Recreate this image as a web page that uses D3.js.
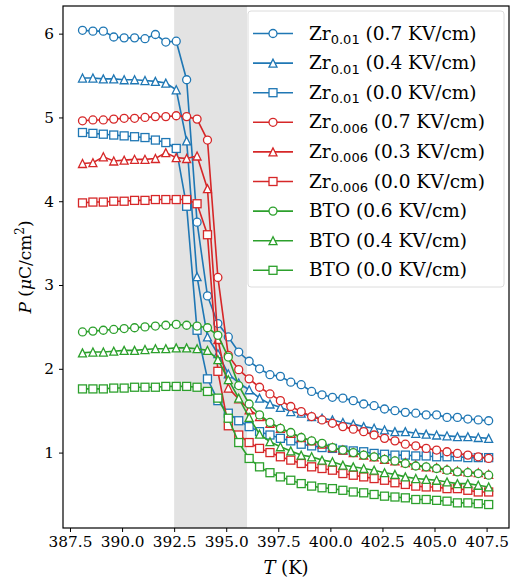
<!DOCTYPE html>
<html>
<head>
<meta charset="utf-8">
<script src="https://cdn.jsdelivr.net/npm/d3@7"></script>
<style>
  body { margin: 0; background: #fff; }
  svg text { font-family: "DejaVu Serif", serif; fill: #000; }
</style>
</head>
<body>
<svg id="drawing_region"></svg>
<script>
// temperatures (K), one per measured point
const temps = [388.1, 388.6, 389.1, 389.6, 390.1, 390.6, 391.1, 391.6, 392.1, 392.6,
               393.1, 393.6, 394.1, 394.6, 395.1, 395.6, 396.1, 396.6, 397.1, 397.6,
               398.1, 398.6, 399.1, 399.6, 400.1, 400.6, 401.1, 401.6, 402.1, 402.6,
               403.1, 403.6, 404.1, 404.6, 405.1, 405.6, 406.1, 406.6, 407.1, 407.6];

// polarization P (uC/cm^2)
const zr01_07 = [6.04, 6.03, 6.03, 5.96, 5.95, 5.95, 5.94, 5.99, 5.90, 5.91,
                 5.45, 3.75, 2.87, 2.54, 2.38, 2.20, 2.09, 2.00, 1.93, 1.91,
                 1.84, 1.81, 1.73, 1.69, 1.66, 1.65, 1.62, 1.58, 1.56, 1.52,
                 1.50, 1.48, 1.47, 1.45, 1.45, 1.42, 1.42, 1.40, 1.39, 1.38];
const zr01_04 = [5.47, 5.47, 5.46, 5.46, 5.45, 5.45, 5.44, 5.43, 5.41, 5.33,
                 4.72, 3.10, 2.38, 2.18, 1.94, 1.83, 1.75, 1.65, 1.58, 1.54,
                 1.49, 1.47, 1.43, 1.41, 1.39, 1.36, 1.34, 1.31, 1.29, 1.27,
                 1.25, 1.25, 1.23, 1.22, 1.21, 1.20, 1.19, 1.19, 1.18, 1.17];
const zr01_00 = [4.82, 4.81, 4.80, 4.79, 4.78, 4.77, 4.76, 4.73, 4.70, 4.63,
                 3.94, 2.46, 1.88, 1.62, 1.47, 1.38, 1.31, 1.25, 1.21, 1.17,
                 1.14, 1.10, 1.08, 1.06, 1.05, 1.03, 1.02, 1.01, 0.99, 0.98,
                 0.97, 0.97, 0.96, 0.96, 0.95, 0.95, 0.95, 0.94, 0.94, 0.94];
const zr006_07 = [4.96, 4.97, 4.97, 4.98, 4.99, 4.99, 5.00, 5.01, 5.01, 5.02,
                  5.01, 4.98, 4.73, 3.09, 2.16, 1.99, 1.88, 1.78, 1.70, 1.62,
                  1.55, 1.49, 1.43, 1.39, 1.35, 1.31, 1.28, 1.25, 1.21, 1.17,
                  1.14, 1.10, 1.08, 1.05, 1.03, 1.01, 0.99, 0.97, 0.95, 0.93];
const zr006_03 = [4.45, 4.46, 4.53, 4.48, 4.49, 4.50, 4.50, 4.51, 4.58, 4.52,
                  4.51, 4.54, 4.15, 2.35, 1.77, 1.64, 1.51, 1.43, 1.35, 1.29,
                  1.23, 1.18, 1.14, 1.10, 1.06, 1.03, 1.00, 0.97, 0.95, 0.92,
                  0.90, 0.88, 0.85, 0.83, 0.82, 0.80, 0.78, 0.77, 0.76, 0.74];
const zr006_00 = [3.98, 3.99, 3.99, 4.00, 4.00, 4.01, 4.01, 4.02, 4.02, 4.02,
                  4.02, 3.97, 3.60, 1.97, 1.32, 1.21, 1.12, 1.05, 1.00, 0.95,
                  0.91, 0.87, 0.83, 0.81, 0.79, 0.75, 0.73, 0.71, 0.69, 0.67,
                  0.64, 0.62, 0.60, 0.59, 0.59, 0.57, 0.57, 0.55, 0.53, 0.53];
const bto_06 = [2.44, 2.45, 2.46, 2.47, 2.48, 2.49, 2.50, 2.51, 2.52, 2.53,
                2.52, 2.51, 2.49, 2.40, 2.14, 1.80, 1.58, 1.45, 1.36, 1.29,
                1.24, 1.18, 1.14, 1.11, 1.06, 1.03, 1.00, 0.97, 0.95, 0.92,
                0.90, 0.87, 0.84, 0.83, 0.81, 0.79, 0.77, 0.76, 0.75, 0.73];
const bto_04 = [2.19, 2.20, 2.20, 2.21, 2.22, 2.22, 2.23, 2.24, 2.24, 2.25,
                2.25, 2.24, 2.22, 2.11, 1.87, 1.65, 1.42, 1.22, 1.13, 1.07,
                1.02, 0.97, 0.95, 0.91, 0.89, 0.85, 0.83, 0.81, 0.79, 0.76,
                0.74, 0.71, 0.69, 0.68, 0.67, 0.65, 0.63, 0.63, 0.61, 0.59];
const bto_00 = [1.76, 1.76, 1.76, 1.77, 1.77, 1.78, 1.78, 1.78, 1.79, 1.79,
                1.79, 1.78, 1.73, 1.65, 1.41, 1.12, 0.93, 0.83, 0.76, 0.71,
                0.67, 0.63, 0.60, 0.58, 0.57, 0.55, 0.53, 0.52, 0.50, 0.48,
                0.47, 0.46, 0.44, 0.44, 0.43, 0.42, 0.40, 0.40, 0.39, 0.38];

const names = ["Zr|0.01| (0.7 KV/cm)", "Zr|0.01| (0.4 KV/cm)", "Zr|0.01| (0.0 KV/cm)",
               "Zr|0.006| (0.7 KV/cm)", "Zr|0.006| (0.3 KV/cm)", "Zr|0.006| (0.0 KV/cm)",
               "BTO (0.6 KV/cm)", "BTO (0.4 KV/cm)", "BTO (0.0 KV/cm)"];
const seriesValues = [zr01_07, zr01_04, zr01_00, zr006_07, zr006_03, zr006_00, bto_06, bto_04, bto_00];
const colors = ["#1f77b4", "#1f77b4", "#1f77b4", "#d62728", "#d62728", "#d62728", "#2ca02c", "#2ca02c", "#2ca02c"];
const markers = ["o", "^", "s", "o", "^", "s", "o", "^", "s"];

const xTicks = [387.5, 390.0, 392.5, 395.0, 397.5, 400.0, 402.5, 405.0, 407.5];
const yTicks = [1, 2, 3, 4, 5, 6];
const spanRange = [392.5, 396.0];

const config = {
    width: 513,
    height: 579,
    margin: {top: 6, right: 4, bottom: 51, left: 63},
    xdomain: [387.164, 408.576],
    ydomain: [0.10, 6.33]
};

const svg = d3.select('#drawing_region')
    .attr('width', config.width)
    .attr('height', config.height);

const inner_width = config.width - config.margin.left - config.margin.right;
const inner_height = config.height - config.margin.top - config.margin.bottom;

const chart = svg.append('g')
    .attr('transform', `translate(${config.margin.left}, ${config.margin.top})`);

const xscale = d3.scaleLinear().domain(config.xdomain).range([0, inner_width]);
const yscale = d3.scaleLinear().domain(config.ydomain).range([inner_height, 0]);

// shaded transition region
chart.append('rect')
    .attr('x', xscale(spanRange[0]))
    .attr('y', 0)
    .attr('width', xscale(spanRange[1]) - xscale(spanRange[0]))
    .attr('height', inner_height)
    .attr('fill', '#e3e3e3');

const ms = 8;
function drawMarker(g, type, color) {
    if (type === 'o') {
        g.append('circle').attr('r', ms / 2);
    } else if (type === 's') {
        g.append('rect').attr('x', -ms / 2).attr('y', -ms / 2).attr('width', ms).attr('height', ms);
    } else {
        g.append('path').attr('d', `M0,${-ms / 2}L${-ms / 2},${ms / 2}L${ms / 2},${ms / 2}Z`);
    }
    g.selectAll('*')
        .attr('fill', '#fff')
        .attr('stroke', color)
        .attr('stroke-width', 1.3);
}

const line = d3.line()
    .x(d => xscale(d[0]))
    .y(d => yscale(d[1]));

seriesValues.forEach((vals, k) => {
    const pts = temps.map((t, i) => [t, vals[i]]);
    const g = chart.append('g');
    g.append('path')
        .datum(pts)
        .attr('d', line)
        .attr('fill', 'none')
        .attr('stroke', colors[k])
        .attr('stroke-width', 1.6);
    g.selectAll('g.mk')
        .data(pts)
        .enter()
        .append('g')
        .attr('class', 'mk')
        .attr('transform', d => `translate(${xscale(d[0])},${yscale(d[1])})`)
        .each(function() { drawMarker(d3.select(this), markers[k], colors[k]); });
});

// axes
const xaxis = d3.axisBottom(xscale).tickValues(xTicks).tickFormat(d3.format('.1f')).tickSize(4).tickPadding(4);
const yaxis = d3.axisLeft(yscale).tickValues(yTicks).tickFormat(d3.format('d')).tickSize(4).tickPadding(5);

const xg = chart.append('g')
    .attr('transform', `translate(0, ${inner_height})`)
    .call(xaxis);
const yg = chart.append('g').call(yaxis);

[xg, yg].forEach(g => {
    g.select('.domain').remove();
    g.selectAll('line').attr('stroke', '#000').attr('stroke-width', 1);
    g.selectAll('text').attr('font-family', '"DejaVu Serif", serif').attr('font-size', 15.3).attr('fill', '#000');
});

// frame
chart.append('rect')
    .attr('width', inner_width)
    .attr('height', inner_height)
    .attr('fill', 'none')
    .attr('stroke', '#000')
    .attr('stroke-width', 1.2);

// axis labels
const xlab = svg.append('text')
    .attr('x', config.margin.left + inner_width / 2)
    .attr('y', 574)
    .attr('text-anchor', 'middle')
    .attr('font-size', 18);
xlab.append('tspan').attr('font-style', 'italic').text('T');
xlab.append('tspan').text(' (K)');

const ylab = svg.append('text')
    .attr('transform', `translate(31, ${config.margin.top + inner_height / 2}) rotate(-90)`)
    .attr('text-anchor', 'middle')
    .attr('font-size', 17);
ylab.append('tspan').attr('font-style', 'italic').text('P');
ylab.append('tspan').text(' (');
ylab.append('tspan').attr('font-style', 'italic').text('μ');
ylab.append('tspan').text('C/cm');
ylab.append('tspan').attr('font-size', 12).attr('dy', -7).text('2');
ylab.append('tspan').attr('dy', 7).text(')');

// legend
const legend = svg.append('g');
legend.append('rect')
    .attr('x', 248)
    .attr('y', 11)
    .attr('width', 256)
    .attr('height', 276)
    .attr('rx', 3)
    .attr('fill', '#fff')
    .attr('fill-opacity', 0.85)
    .attr('stroke', '#dcdcdc')
    .attr('stroke-width', 1);

names.forEach((name, k) => {
    const cy = 33.5 + k * 29.6;
    const item = legend.append('g').attr('transform', `translate(0, ${cy})`);
    item.append('line')
        .attr('x1', 253).attr('x2', 293)
        .attr('y1', 0).attr('y2', 0)
        .attr('stroke', colors[k])
        .attr('stroke-width', 1.6);
    const mg = item.append('g').attr('transform', 'translate(273, 0)');
    drawMarker(mg, markers[k], colors[k]);
    const parts = name.split('|');
    const t = item.append('text')
        .attr('x', 309)
        .attr('y', 6)
        .attr('font-size', 18.5);
    if (parts.length === 3) {
        t.append('tspan').text(parts[0]);
        t.append('tspan').attr('font-size', 13).attr('dy', 4.5).attr('font-family', '"DejaVu Sans", sans-serif').text(parts[1]);
        t.append('tspan').attr('dy', -4.5).text(parts[2]);
    } else {
        t.text(name);
    }
});
</script>
</body>
</html>
